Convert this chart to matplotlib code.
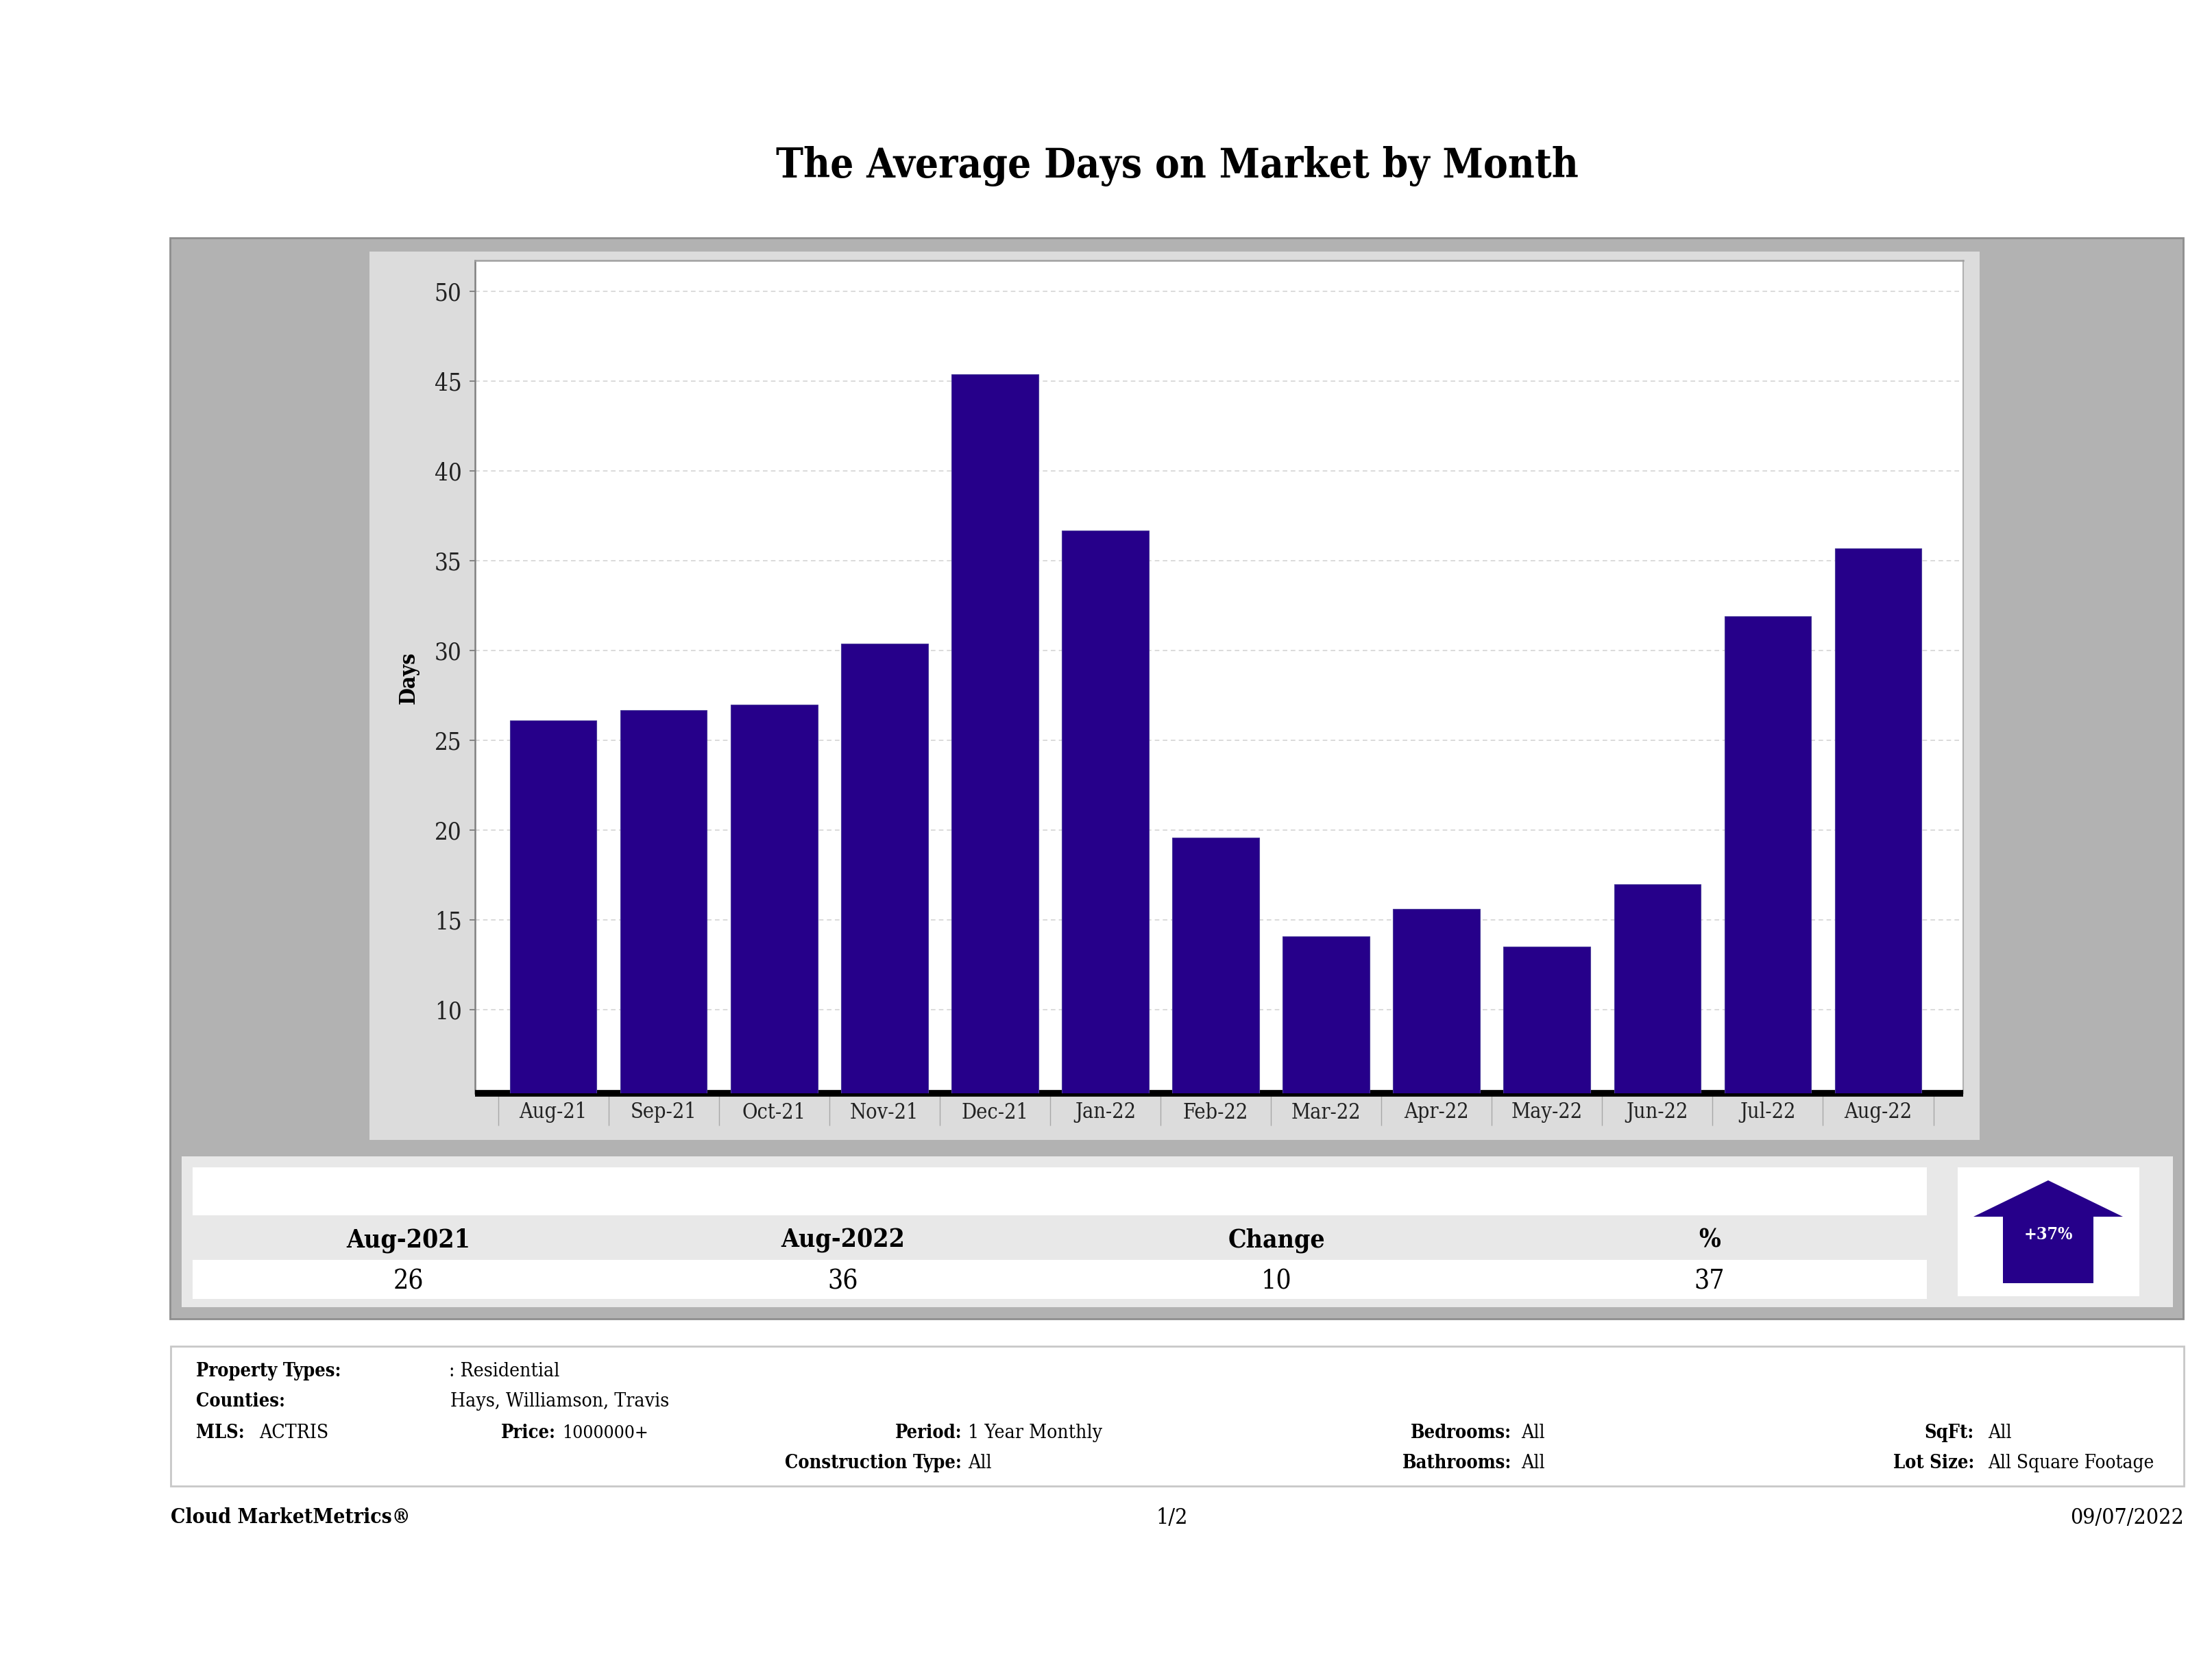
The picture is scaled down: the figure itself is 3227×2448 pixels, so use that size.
#!/usr/bin/env python3
"""Average days on market by month: report page with bar chart and summary tables."""

import matplotlib
matplotlib.use("Agg")
import matplotlib.pyplot as plt
import numpy as np
from matplotlib.patches import Polygon, Rectangle

W, H = 3227, 2448

months = ["Aug-21", "Sep-21", "Oct-21", "Nov-21", "Dec-21", "Jan-22", "Feb-22",
          "Mar-22", "Apr-22", "May-22", "Jun-22", "Jul-22", "Aug-22"]
days = [26.1, 26.7, 27.0, 30.4, 45.4, 36.7, 19.6, 14.1, 15.6, 13.5, 17.0, 31.9, 35.7]
y_ticks = [10, 15, 20, 25, 30, 35, 40, 45, 50]

summary_heads = ["Aug-2021", "Aug-2022", "Change", "%"]
summary_vals = ["26", "36", "10", "37"]

INDIGO = "#26008a"
SERIF = "DejaVu Serif"

plt.rcParams["font.family"] = SERIF
plt.rcParams["font.stretch"] = "condensed"

fig = plt.figure(figsize=(W / 100, H / 100), dpi=100, facecolor="white")

# page layer in image pixels, y pointing down
page = fig.add_axes([0, 0, 1, 1])
page.set_xlim(0, W)
page.set_ylim(H, 0)
page.axis("off")


def box(x0, y0, x1, y1, color, edge="none", lw=0):
    page.add_patch(Rectangle((x0, y0), x1 - x0, y1 - y0, facecolor=color, edgecolor=edge, linewidth=lw))


def label(x, y, s, size=20.3, bold=False, ha="left", color="black"):
    page.text(x, y, s, fontsize=19.5 if bold and size == 20.3 else size,
              fontweight="bold" if bold else "normal", ha=ha, va="center", color=color)


page.text(1717, 243, "The Average Days on Market by Month", fontsize=43, fontweight="bold",
          ha="center", va="center", fontstretch="condensed")

# grey panels
box(248, 347, 3185, 1924, "#b2b2b2", "#8e8e8e", 2)
box(539, 367, 2888, 1663, "#dcdcdc")
box(265, 1687, 3170, 1907, "#e8e8e8")
box(281, 1703, 2811, 1773, "white")
box(281, 1838, 2811, 1895, "white")
box(2856, 1703, 3121, 1891, "white")

# summary table
for cx, head, val in zip([596, 1230, 1862, 2494], summary_heads, summary_vals):
    label(cx, 1810, head, size=26.8, bold=True, ha="center")
    label(cx, 1870, val, size=28, ha="center")

# arrow
page.add_patch(Polygon([(2988, 1722), (3097, 1775), (3054, 1775), (3054, 1872),
                        (2922, 1872), (2922, 1775), (2879, 1775)], closed=True,
                       facecolor=INDIGO, edgecolor="none"))
label(2988, 1801, "+37%", size=18, bold=True, ha="center", color="white")

# filter box
box(249, 1964, 3186, 2168, "white", "#c8c8c8", 2)
label(286, 2000, "Property Types:", bold=True)
label(655, 2000, ": Residential")
label(286, 2045, "Counties:", bold=True)
label(657, 2045, "Hays, Williamson, Travis")
label(286, 2090, "MLS:", bold=True)
label(378, 2090, "ACTRIS")
label(731, 2090, "Price:", bold=True)
label(820, 2090, "1000000+", size=19)
label(1403, 2090, "Period:", bold=True, ha="right")
label(1412, 2090, "1 Year Monthly")
label(1403, 2135, "Construction Type:", bold=True, ha="right")
label(1412, 2135, "All")
label(2205, 2090, "Bedrooms:", bold=True, ha="right")
label(2219, 2090, "All")
label(2205, 2135, "Bathrooms:", bold=True, ha="right")
label(2219, 2135, "All")
label(2880, 2090, "SqFt:", bold=True, ha="right")
label(2900, 2090, "All")
label(2880, 2135, "Lot Size:", bold=True, ha="right")
label(2900, 2135, "All Square Footage", size=20)

# footer
label(249, 2214, "Cloud MarketMetrics®", size=21.6, bold=True)
label(1710, 2214, "1/2", size=23, ha="center")
label(3186, 2214, "09/07/2022", size=23, ha="right")

# bar chart
ax = fig.add_axes([693 / W, 1 - 1595 / H, (2864 - 693) / W, (1595 - 380) / H], facecolor="white")
x = np.arange(len(months))
ax.bar(x, days, width=0.786, color=INDIGO, edgecolor="#4a3a9a", linewidth=0.8, zorder=3)
ax.set_xlim(-0.708, 12.77)
ax.set_ylim(5.35, 51.73)

ax.set_yticks(y_ticks)
ax.tick_params(axis="y", length=6, width=1.2, color="#777777", pad=8, labelsize=25, labelcolor="#222222")
ax.yaxis.grid(True, color="#d4d4d4", linestyle=(0, (4, 3)), linewidth=1.2, zorder=1)
ax.set_axisbelow(True)

# separators between the months, labels in the middle of each month
ax.set_xticks(np.arange(-0.5, len(months)))
ax.set_xticklabels([])
ax.set_xticks(x, minor=True)
ax.set_xticklabels(months, minor=True, fontsize=22, color="#222222")
ax.tick_params(axis="x", which="major", length=34, width=1, color="#a8a8a8")
ax.tick_params(axis="x", which="minor", length=0, pad=9)
ax.set_ylabel("Days", fontsize=23, fontweight="bold")
ax.yaxis.set_label_coords((612 - 693) / (2864 - 693), (1595 - 989) / (1595 - 380))

for side, col, lw in [("left", "#808080", 1.8), ("top", "#a0a0a0", 1.8), ("right", "#b0b0b0", 1.5), ("bottom", "black", 7)]:
    ax.spines[side].set_color(col)
    ax.spines[side].set_linewidth(lw)
ax.spines["bottom"].set_capstyle("butt")

fig.savefig("out.png", dpi=100)
